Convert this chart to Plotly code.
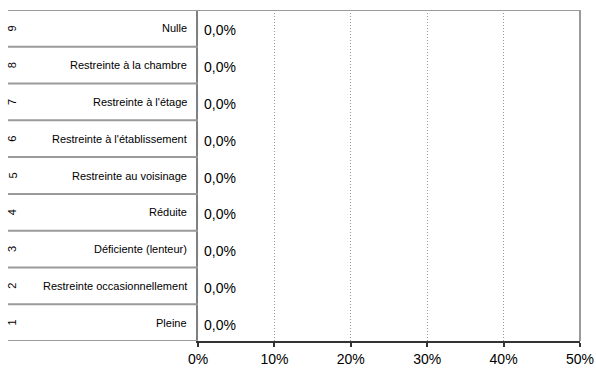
import plotly.graph_objects as go

# Données
rangs = [1, 2, 3, 4, 5, 6, 7, 8, 9]
libelles = [
    "Pleine",
    "Restreinte occasionnellement",
    "Déficiente (lenteur)",
    "Réduite",
    "Restreinte au voisinage",
    "Restreinte à l'établissement",
    "Restreinte à l'étage",
    "Restreinte à la chambre",
    "Nulle",
]
valeurs = [0, 0, 0, 0, 0, 0, 0, 0, 0]
ticks_x = [0, 10, 20, 30, 40, 50]
ticks_x_txt = ["0%", "10%", "20%", "30%", "40%", "50%"]

FONT = "Liberation Sans, Arial, sans-serif"
GRIS = "#9a9a9a"

fig = go.Figure()
fig.add_trace(go.Bar(
    x=valeurs,
    y=rangs,
    orientation="h",
    marker_color="#808080",
    showlegend=False,
))

# étiquettes de valeurs
for r, v in zip(rangs, valeurs):
    fig.add_annotation(x=v, xref="x", y=r, yref="y",
                       text=f"{v:.1f}%".replace(".", ","),
                       xanchor="left", xshift=4, yshift=-2, showarrow=False,
                       font=dict(size=14, color="#000000", family=FONT))

# tableau de libellés à gauche
table_x0 = (8 - 198) / 382
for r, lib in zip(rangs, libelles):
    fig.add_annotation(x=0, xref="paper", y=r, yref="y", text=lib,
                       xanchor="right", xshift=-9, showarrow=False,
                       font=dict(size=11, color="#000000", family=FONT))
    fig.add_annotation(x=0, xref="paper", y=r, yref="y", text=str(r),
                       xanchor="center", xshift=-186, textangle=-90, showarrow=False,
                       font=dict(size=11, color="#000000", family=FONT))
    fig.add_shape(type="line", xref="paper", yref="y", x0=table_x0, x1=0,
                  y0=r - 0.5, y1=r - 0.5, line=dict(color=GRIS, width=2))

# bordures haut / droite
fig.add_shape(type="line", xref="paper", yref="y", x0=table_x0, x1=1,
              y0=9.5, y1=9.5, line=dict(color=GRIS, width=2))
fig.add_shape(type="line", xref="paper", yref="y", x0=1, x1=1,
              y0=0.5, y1=9.5, line=dict(color=GRIS, width=2))

fig.update_layout(
    width=596, height=369,
    margin=dict(l=198, r=16, t=10, b=28, autoexpand=False),
    plot_bgcolor="white", paper_bgcolor="white",
    font=dict(family=FONT, size=14, color="#000000"),
    bargap=0.5,
)
fig.update_xaxes(
    range=[0, 50], tickvals=ticks_x, ticktext=ticks_x_txt, automargin=False,
    showgrid=True, gridcolor="#999999", griddash="1px,2px", gridwidth=1,
    showline=True, linecolor="#333333", linewidth=2,
    ticks="outside", ticklen=4, tickcolor="#333333", tickwidth=2,
    zeroline=False, tickfont=dict(size=14, family=FONT),
)
fig.update_yaxes(
    range=[0.5, 9.5], showticklabels=False, showgrid=False, automargin=False,
    showline=True, linecolor="#808080", linewidth=2, zeroline=False,
)

# marge par défaut de la page HTML -> 0
fig.write_html("out.html", config={"displayModeBar": False},
               post_script="document.body.style.margin='0';")
